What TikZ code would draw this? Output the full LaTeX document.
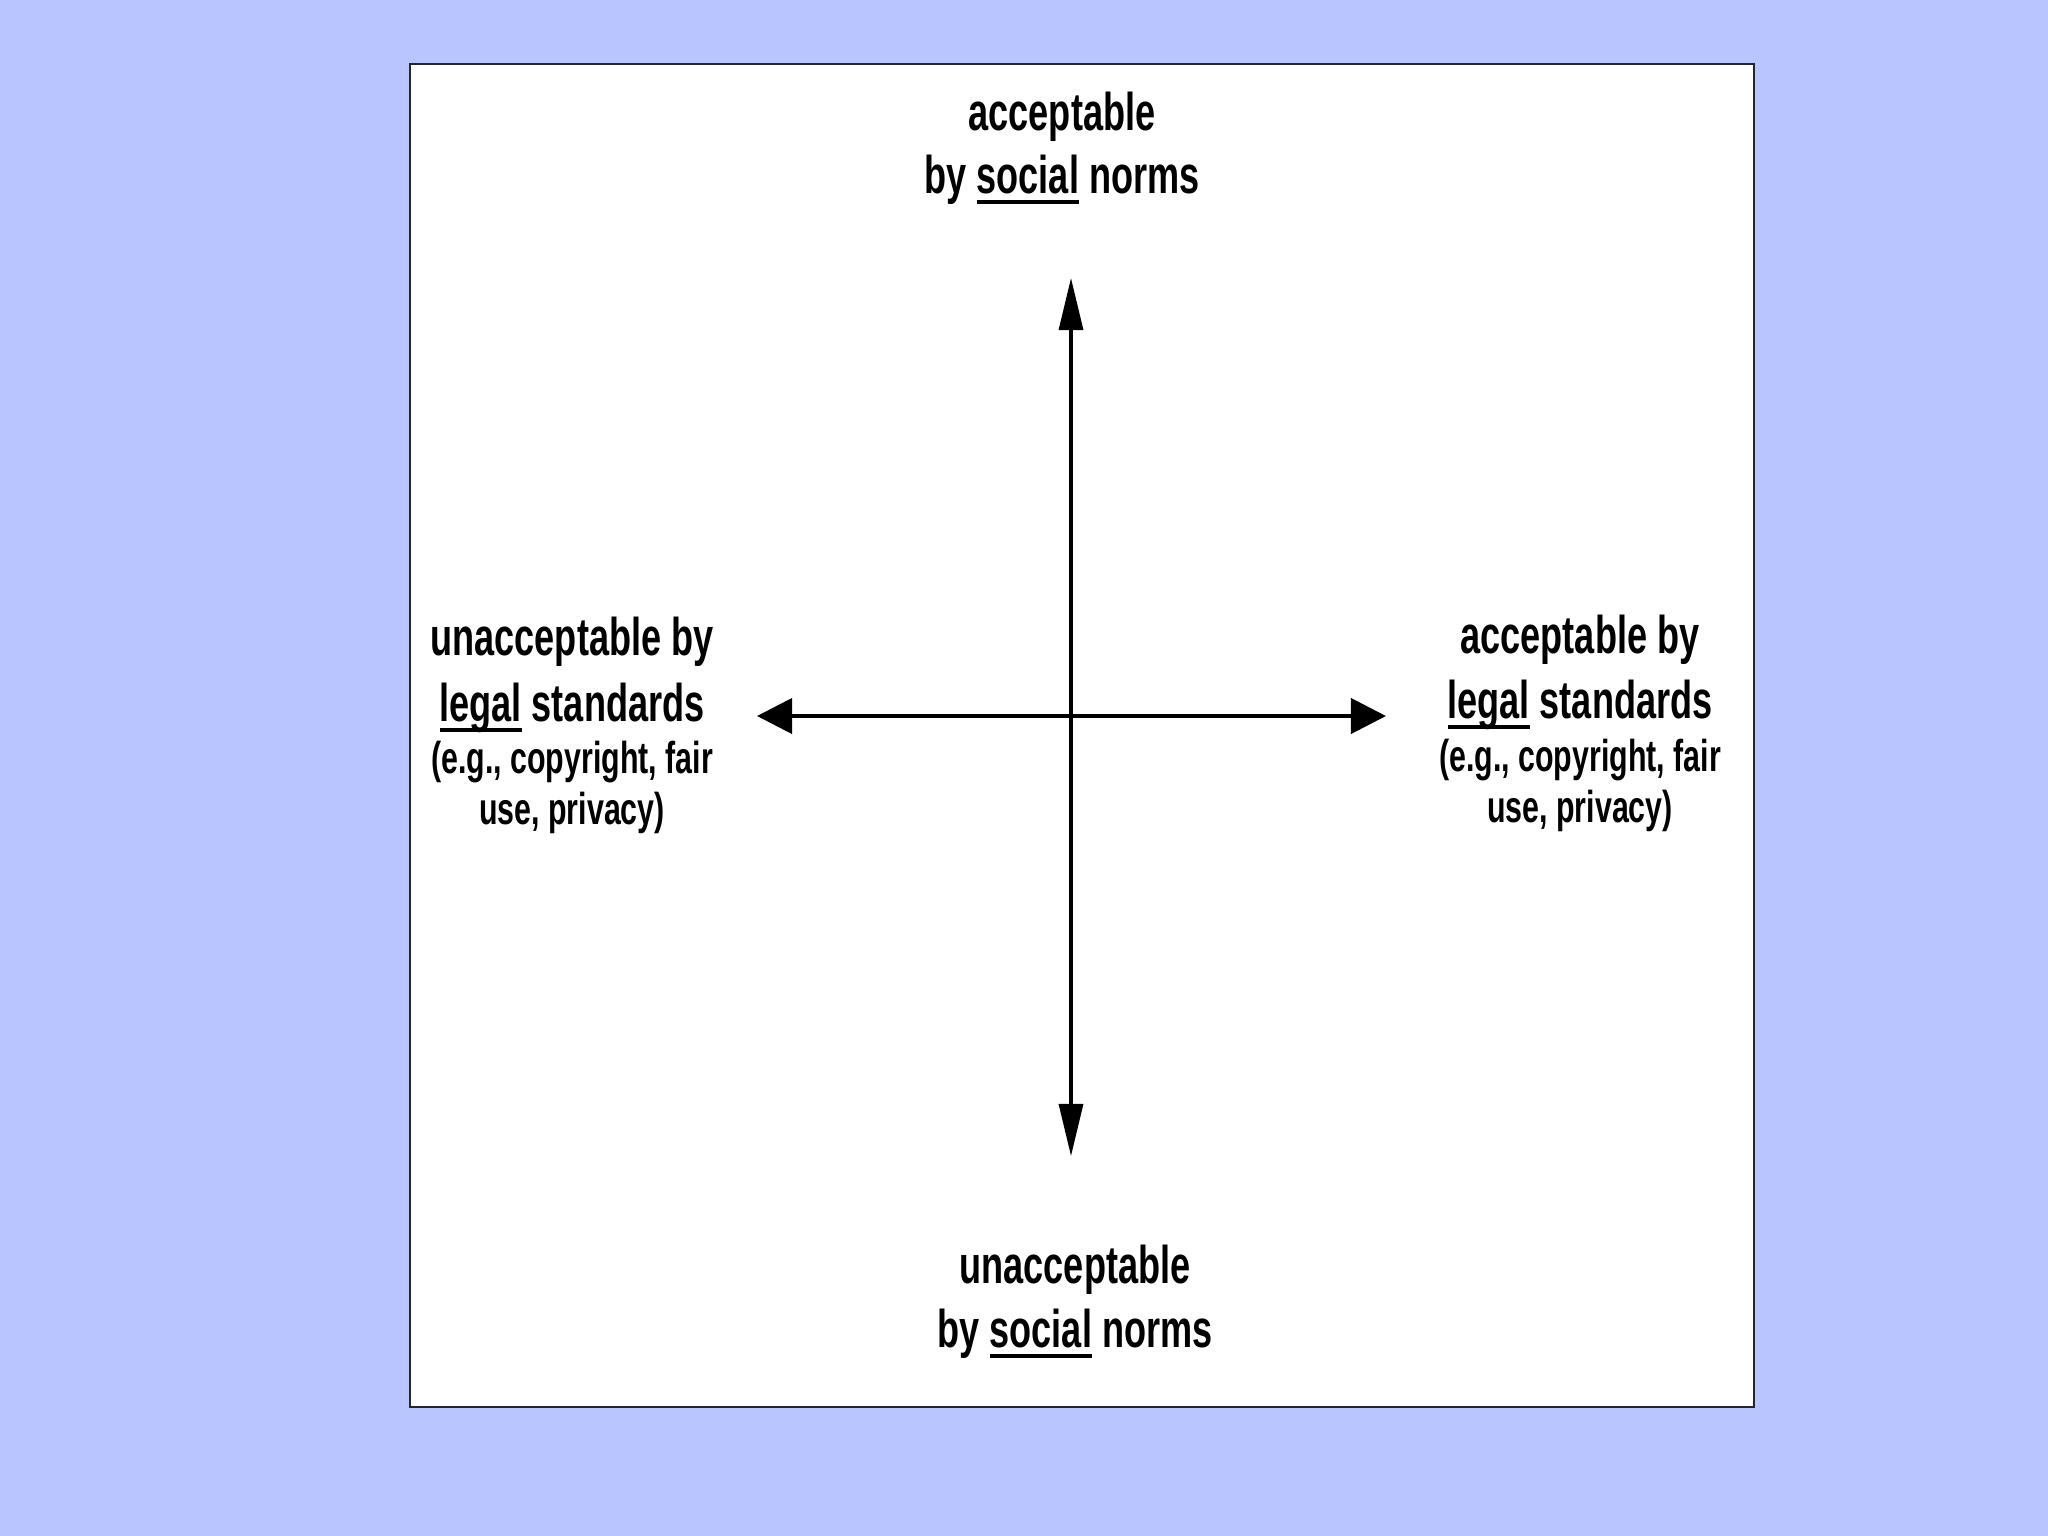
\documentclass[tikz,border=0pt]{standalone}
\usepackage{fontspec}
\newfontfamily\labelfont[FakeStretch=0.68]{Liberation Sans Bold}
\usetikzlibrary{arrows.meta}
\definecolor{bgblue}{RGB}{184,197,254}
\newcommand\myul[1]{\setbox0\hbox{#1}\rlap{\rule[-0.21em]{\wd0}{1.3pt}}\box0\relax}
\tikzset{
  big/.style={font=\labelfont\fontsize{15.1pt}{18pt}\selectfont, inner sep=0pt, anchor=base},
  small/.style={font=\labelfont\fontsize{12.7pt}{15pt}\selectfont, inner sep=0pt, anchor=base},
  vaxis/.style={line width=0.9pt, {Triangle[length=0.52cm,width=0.24cm]}-{Triangle[length=0.52cm,width=0.24cm]}},
  haxis/.style={line width=1.1pt, {Triangle[length=0.35cm,width=0.35cm]}-{Triangle[length=0.35cm,width=0.35cm]}}
}
\begin{document}
\begin{tikzpicture}[x=0.01cm,y=-0.01cm]
\useasboundingbox (0,0) rectangle (2048,1536);
\fill[bgblue] (0,0) rectangle (2048,1536);
\filldraw[fill=white, draw=black!85, line width=0.6pt] (410,64) rectangle (1754,1407);
\coordinate (top) at (1071,278);
\coordinate (bottom) at (1071,1156);
\coordinate (left) at (757,716);
\coordinate (right) at (1386,716);
\draw[vaxis] (top) -- (bottom);
\draw[haxis] (left) -- (right);
% top label
\node[big] (t1) at (1062,130) {acceptable};
\node[big] (t2) at (1062,193) {by \myul{social} norms};
% bottom label
\node[big] (b1) at (1075,1283) {unacceptable};
\node[big] (b2) at (1075,1347) {by \myul{social} norms};
% left label
\node[big] (l1) at (572,655) {unacceptable by};
\node[big] (l2) at (572,721) {\myul{legal} standards};
\node[small] (l3) at (572,773) {(e.g., copyright, fair};
\node[small] (l4) at (572,824) {use, privacy)};
% right label
\node[big] (r1) at (1580,653) {acceptable by};
\node[big] (r2) at (1580,718) {\myul{legal} standards};
\node[small] (r3) at (1580,771) {(e.g., copyright, fair};
\node[small] (r4) at (1580,822) {use, privacy)};
\end{tikzpicture}
\end{document}
